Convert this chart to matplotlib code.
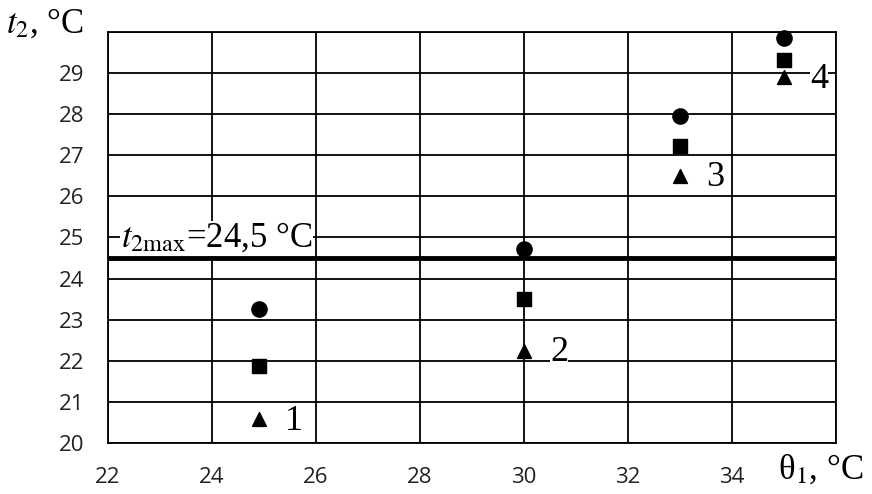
import numpy as np
import matplotlib
matplotlib.use('Agg')
import matplotlib.pyplot as plt

# theta_1 values of the four regimes and t_2 for the three marker series
theta1 = [24.9, 30.0, 33.0, 35.0]
t2_circle = [23.25, 24.72, 27.95, 29.85]
t2_square = [21.87, 23.50, 27.22, 29.33]
t2_triangle = [20.58, 22.25, 26.50, 28.90]
point_labels = ["1", "2", "3", "4"]
t2_max = 24.5

x_ticks = [22, 24, 26, 28, 30, 32, 34]
y_ticks = [20, 21, 22, 23, 24, 25, 26, 27, 28, 29]

SERIF = "Liberation Serif"
SANS = "Open Sans"

plt.rcParams['font.family'] = [SANS, 'DejaVu Sans']

fig = plt.figure(figsize=(8.72, 4.94), dpi=100)
ax = fig.add_axes([108 / 872, 1 - 443 / 494, (836 - 108) / 872, (443 - 32) / 494])

ax.set_xlim(22, 36)
ax.set_ylim(20, 30)
ax.set_xticks(x_ticks + [36], labels=[str(v) for v in x_ticks] + [""])
ax.set_yticks(y_ticks + [30], labels=[str(v) for v in y_ticks] + [""])
ax.tick_params(length=0, labelsize=16, labelcolor="#222222")
ax.tick_params(axis="y", pad=17)
ax.tick_params(axis="x", pad=17)
ax.grid(True, color="black", linewidth=1.3)
ax.set_axisbelow(True)
for sp in ax.spines.values():
    sp.set_color("black")
    sp.set_linewidth(1.3)

# limit line
ax.axhline(t2_max, color="black", linewidth=3.5, zorder=3)
ax.text(22.25, 24.98, r"$t_{\rm 2max}$=24,5 °C", fontsize=25, fontfamily=SERIF,
        va="center", ha="left", math_fontfamily="stix",
        bbox=dict(facecolor="white", edgecolor="none", pad=0.5), zorder=4)

ax.scatter(theta1, t2_circle, marker="o", s=120, color="black", zorder=5, clip_on=False)
ax.scatter(theta1, t2_square, marker="s", s=100, color="black", zorder=5, clip_on=False)
ax.scatter(theta1, t2_triangle, marker="^", s=100, color="black", zorder=5, clip_on=False)

for x, y, lab in zip(theta1, t2_triangle, point_labels):
    ax.text(x + 0.5, y - 0.05, lab, fontsize=26, fontfamily=SERIF,
            va="center", ha="left",
            bbox=dict(facecolor="white", edgecolor="none", pad=0), zorder=6)

# axis titles placed like in the original figure
fig.text(6 / 872, 1 - 24 / 494, r"$t_{\rm 2}$, °C", fontsize=25, fontfamily=SERIF,
         va="center", ha="left", math_fontfamily="stix")
fig.text(778 / 872, 1 - 470 / 494, r"θ$_{\rm 1}$, °C", fontsize=25, fontfamily=SERIF,
         va="center", ha="left", math_fontfamily="stix")

fig.savefig("out.png", dpi=100)
